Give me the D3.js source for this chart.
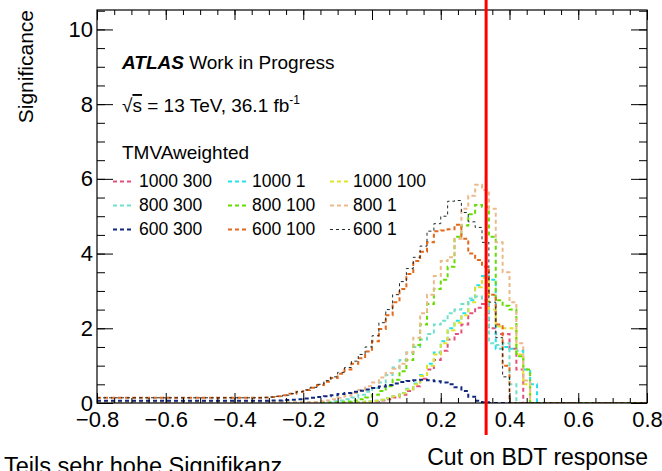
<!DOCTYPE html>
<html>
<head>
<meta charset="utf-8">
<script src="https://cdn.jsdelivr.net/npm/d3@7"></script>
<style>
  body { margin: 0; background: #fff; }
  svg { display: block; font-family: "Liberation Sans", Arial, Helvetica, sans-serif; }
</style>
</head>
<body>
<div id="chart"></div>
<script>
const width = 662, height = 471;

// histogram binning of the BDT cut scan
const binLow = -0.8, binWidth = 0.02;

// significance per bin, 80 bins from -0.8 to 0.8
const s1000_300 = [
  0,0,0,0,0,0,0,0,0,0,
  0,0,0,0,0,0,0,0,0,0,
  0,0,0,0,0,0,0,0,0,0,
  0,0,0,0,0,0,0,0,0.01,0.02,
  0.04,0.07,0.1,0.15,0.22,0.32,0.45,0.65,0.9,1.15,
  1.4,1.7,1.85,2.1,2.4,2.55,2.65,2.0,1.85,1.85,
  1.45,0.9,0,0,0,0,0,0,0,0,
  0,0,0,0,0,0,0,0,0,0];
const s1000_1 = [
  0,0,0,0,0,0,0,0,0,0,
  0,0,0,0,0,0,0,0,0,0,
  0,0,0,0,0,0,0,0,0,0,
  0,0,0,0,0,0,0,0.01,0.02,0.04,
  0.06,0.09,0.13,0.19,0.27,0.38,0.52,0.75,1.05,1.35,
  1.65,2.0,2.2,2.4,2.75,3.15,3.4,3.3,1.45,1.5,
  1.45,1.4,0.9,0.5,0,0,0,0,0,0,
  0,0,0,0,0,0,0,0,0,0];
const s1000_100 = [
  0,0,0,0,0,0,0,0,0,0,
  0,0,0,0,0,0,0,0,0,0,
  0,0,0,0,0,0,0,0,0,0,
  0,0,0,0,0,0,0,0.01,0.02,0.04,
  0.06,0.09,0.13,0.18,0.26,0.36,0.5,0.72,1.0,1.3,
  1.6,1.95,2.15,2.35,2.7,3.1,3.35,2.5,2.05,2.0,
  2.0,1.3,0.5,0,0,0,0,0,0,0,
  0,0,0,0,0,0,0,0,0,0];
const s800_300 = [
  0.01,0.01,0.01,0.01,0.01,0.01,0.01,0.01,0.01,0.01,
  0.01,0.01,0.01,0.01,0.01,0.01,0.01,0.01,0.01,0.01,
  0.01,0.01,0.01,0.01,0.01,0.01,0.01,0.01,0.01,0.01,
  0.01,0.01,0.02,0.03,0.05,0.07,0.1,0.15,0.22,0.3,
  0.4,0.55,0.75,0.95,1.15,1.35,1.5,1.7,1.85,2.1,
  2.2,2.4,2.5,2.65,2.8,2.85,2.75,1.6,1.55,1.6,
  0.5,0,0,0,0,0,0,0,0,0,
  0,0,0,0,0,0,0,0,0,0];
const s800_100 = [
  0.01,0.01,0.01,0.01,0.01,0.01,0.01,0.01,0.01,0.01,
  0.01,0.01,0.01,0.01,0.01,0.01,0.01,0.01,0.01,0.01,
  0.01,0.01,0.01,0.01,0.01,0.01,0.01,0.01,0.01,0.01,
  0.01,0.01,0.01,0.01,0.01,0.02,0.04,0.07,0.1,0.15,
  0.22,0.32,0.45,0.62,0.85,1.15,1.55,2.1,2.65,3.05,
  3.3,3.65,4.45,4.75,5.05,5.3,5.25,4.45,2.75,2.6,
  2.5,1.25,0.9,0,0,0,0,0,0,0,
  0,0,0,0,0,0,0,0,0,0];
const s800_1 = [
  0.02,0.02,0.02,0.02,0.02,0.02,0.02,0.02,0.02,0.02,
  0.02,0.02,0.02,0.02,0.02,0.02,0.02,0.02,0.02,0.02,
  0.02,0.02,0.02,0.02,0.02,0.02,0.02,0.02,0.02,0.02,
  0.02,0.03,0.05,0.07,0.1,0.14,0.2,0.27,0.35,0.45,
  0.55,0.68,0.8,0.92,1.05,1.35,1.75,2.4,2.9,3.4,
  3.8,3.9,4.4,5.2,5.55,5.84,5.7,5.2,4.3,3.5,
  2.7,1.6,0.6,0,0,0,0,0,0,0,
  0,0,0,0,0,0,0,0,0,0];
const s600_300 = [
  0.06,0.06,0.06,0.06,0.06,0.06,0.06,0.06,0.06,0.06,
  0.06,0.06,0.06,0.06,0.06,0.06,0.06,0.06,0.06,0.06,
  0.06,0.06,0.06,0.06,0.06,0.07,0.07,0.08,0.09,0.1,
  0.12,0.14,0.16,0.18,0.21,0.24,0.27,0.3,0.33,0.36,
  0.4,0.44,0.48,0.52,0.56,0.59,0.61,0.62,0.61,0.58,
  0.55,0.5,0.42,0.32,0.17,0.06,0.02,0,0,0,
  0,0,0,0,0,0,0,0,0,0,
  0,0,0,0,0,0,0,0,0,0];
const s600_100 = [
  0.14,0.14,0.14,0.14,0.14,0.14,0.14,0.14,0.14,0.14,
  0.14,0.14,0.14,0.14,0.14,0.14,0.14,0.14,0.14,0.14,
  0.14,0.14,0.14,0.14,0.15,0.16,0.18,0.21,0.25,0.3,
  0.35,0.41,0.48,0.57,0.67,0.78,0.9,1.05,1.2,1.38,
  1.65,1.98,2.35,2.7,3.05,3.45,3.8,4.05,4.3,4.6,
  4.62,4.65,4.77,4.4,4.0,3.83,3.65,2.9,2.1,1.0,
  0,0,0,0,0,0,0,0,0,0,
  0,0,0,0,0,0,0,0,0,0];
const s600_1 = [
  0.14,0.14,0.14,0.14,0.14,0.14,0.14,0.14,0.14,0.14,
  0.14,0.14,0.14,0.14,0.14,0.14,0.14,0.14,0.14,0.14,
  0.14,0.14,0.14,0.14,0.15,0.16,0.18,0.21,0.25,0.3,
  0.35,0.42,0.5,0.6,0.7,0.82,0.95,1.12,1.3,1.5,
  1.8,2.15,2.5,2.9,3.25,3.6,3.9,4.2,4.6,4.8,
  5.0,5.4,5.42,5.1,4.85,4.7,4.3,2.7,1.75,0.7,
  0,0,0,0,0,0,0,0,0,0,
  0,0,0,0,0,0,0,0,0,0];

const seriesNames = ["1000 300", "1000 1", "1000 100", "800 300", "800 100", "800 1", "600 300", "600 100", "600 1"];
const seriesValues = [s1000_300, s1000_1, s1000_100, s800_300, s800_100, s800_1, s600_300, s600_100, s600_1];
const seriesColors = ["#e4507c", "#22e2ea", "#e2e22a", "#70e0cc", "#66dd00", "#ebb98a", "#10287e", "#e2681c", "#1c2a2a"];

const xTicks = [-0.8, -0.6, -0.4, -0.2, 0, 0.2, 0.4, 0.6, 0.8];
const yTicks = [0, 2, 4, 6, 8, 10];
const cutValue = 0.332;

const svg = d3.select("#chart").append("svg")
    .attr("width", width)
    .attr("height", height);

const x = d3.scaleLinear().domain([-0.8, 0.8]).range([97, 647]);
const y = d3.scaleLinear().domain([0, 10.52]).range([403, 10]);

const xMinor = d3.range(-16, 17).map(i => i * 0.05);
const yMinor = d3.range(0, 22).map(i => i * 0.5);

svg.append("defs").append("clipPath").attr("id", "frame")
  .append("rect")
    .attr("x", 97).attr("y", 10)
    .attr("width", 550).attr("height", 393);

// histograms
const line = d3.line()
    .x(d => x(d[0]))
    .y(d => y(d[1]))
    .curve(d3.curveStepAfter);

const hists = svg.append("g").attr("clip-path", "url(#frame)");
seriesValues.forEach(function (vals, i) {
    var pts = vals.map((v, k) => [binLow + k * binWidth, v]);
    pts.push([binLow + vals.length * binWidth, vals[vals.length - 1]]);
    var black = i == 8;
    hists.append("path")
        .datum(pts)
        .attr("fill", "none")
        .attr("stroke", seriesColors[i])
        .attr("stroke-width", black ? 1 : 2)
        .attr("stroke-dasharray", black ? "3,3" : "4,3")
        .attr("d", line);
});

// axes, ROOT style ticks pointing inwards
const fmt = d => d === 0 ? "0" : d.toFixed(1).replace("-", "\u2212");

svg.append("g")
    .attr("transform", "translate(0,403)")
    .call(d3.axisBottom(x).tickValues(xMinor).tickSize(-5).tickFormat(""))
    .call(g => g.select(".domain").remove());
svg.append("g")
    .attr("transform", "translate(0,403)")
    .call(d3.axisBottom(x).tickValues(xTicks).tickSize(-10).tickPadding(8).tickFormat(fmt))
    .call(g => g.select(".domain").remove())
    .selectAll("text")
    .style("font-size", "22px")
    .style("font-family", "Liberation Sans, Arial, sans-serif")
    .attr("fill", "#000");

svg.append("g")
    .attr("transform", "translate(0,10)")
    .call(d3.axisTop(x).tickValues(xMinor).tickSize(-5).tickFormat(""))
    .call(g => g.select(".domain").remove());
svg.append("g")
    .attr("transform", "translate(0,10)")
    .call(d3.axisTop(x).tickValues(xTicks).tickSize(-10).tickFormat(""))
    .call(g => g.select(".domain").remove());

svg.append("g")
    .attr("transform", "translate(97,0)")
    .call(d3.axisLeft(y).tickValues(yMinor).tickSize(-8).tickFormat(""))
    .call(g => g.select(".domain").remove());
svg.append("g")
    .attr("transform", "translate(97,0)")
    .call(d3.axisLeft(y).tickValues(yTicks).tickSize(-16).tickPadding(4).tickFormat(d3.format("d")))
    .call(g => g.select(".domain").remove())
    .selectAll("text")
    .style("font-size", "22px")
    .style("font-family", "Liberation Sans, Arial, sans-serif")
    .attr("fill", "#000");

svg.append("g")
    .attr("transform", "translate(647,0)")
    .call(d3.axisRight(y).tickValues(yMinor).tickSize(-8).tickFormat(""))
    .call(g => g.select(".domain").remove());
svg.append("g")
    .attr("transform", "translate(647,0)")
    .call(d3.axisRight(y).tickValues(yTicks).tickSize(-16).tickFormat(""))
    .call(g => g.select(".domain").remove());

svg.append("rect")
    .attr("x", 97).attr("y", 10)
    .attr("width", 550).attr("height", 393)
    .attr("fill", "none")
    .attr("stroke", "#000")
    .attr("stroke-width", 1.2);

// axis titles
svg.append("text")
    .attr("transform", "translate(33,10) rotate(-90)")
    .attr("text-anchor", "end")
    .style("font-size", "21px")
    .text("Significance");

svg.append("text")
    .attr("x", 648).attr("y", 465)
    .attr("text-anchor", "end")
    .style("font-size", "23px")
    .text("Cut on BDT response");

svg.append("text")
    .attr("x", 4).attr("y", 474)
    .style("font-size", "23.5px")
    .text("Teils sehr hohe Signifikanz");

// labels
var atlas = svg.append("text").attr("x", 122).attr("y", 69).style("font-size", "19px");
atlas.append("tspan").style("font-weight", "bold").style("font-style", "italic").text("ATLAS");
atlas.append("tspan").text(" Work in Progress");

var lumi = svg.append("text").attr("x", 122).attr("y", 112).style("font-size", "19px");
lumi.append("tspan").text("\u221A");
lumi.append("tspan").style("text-decoration", "overline").text("s");
lumi.append("tspan").text(" = 13 TeV, 36.1 fb");
lumi.append("tspan").attr("dy", -8).style("font-size", "12px").text("-1");

svg.append("text")
    .attr("x", 122).attr("y", 159)
    .style("font-size", "19px")
    .text("TMVAweighted");

// legend, 3 columns
const legX = [113, 228, 330];
const legTextX = [139, 252, 353];
const legY = [187, 211, 235];
const legend = svg.append("g");
seriesNames.forEach(function (name, i) {
    var c = i % 3, r = Math.floor(i / 3);
    var black = i == 8;
    legend.append("line")
        .attr("x1", legX[c]).attr("x2", legX[c] + 20)
        .attr("y1", legY[r] - 5.5).attr("y2", legY[r] - 5.5)
        .attr("stroke", seriesColors[i])
        .attr("stroke-width", black ? 1 : 2)
        .attr("stroke-dasharray", black ? "3,3" : "4,3");
    legend.append("text")
        .attr("x", legTextX[c]).attr("y", legY[r])
        .style("font-size", "17.5px")
        .text(name);
});

// cut line
svg.append("line")
    .attr("x1", x(cutValue)).attr("x2", x(cutValue))
    .attr("y1", 0).attr("y2", 435)
    .attr("stroke", "#ff0000")
    .attr("stroke-width", 3);
</script>
</body>
</html>
